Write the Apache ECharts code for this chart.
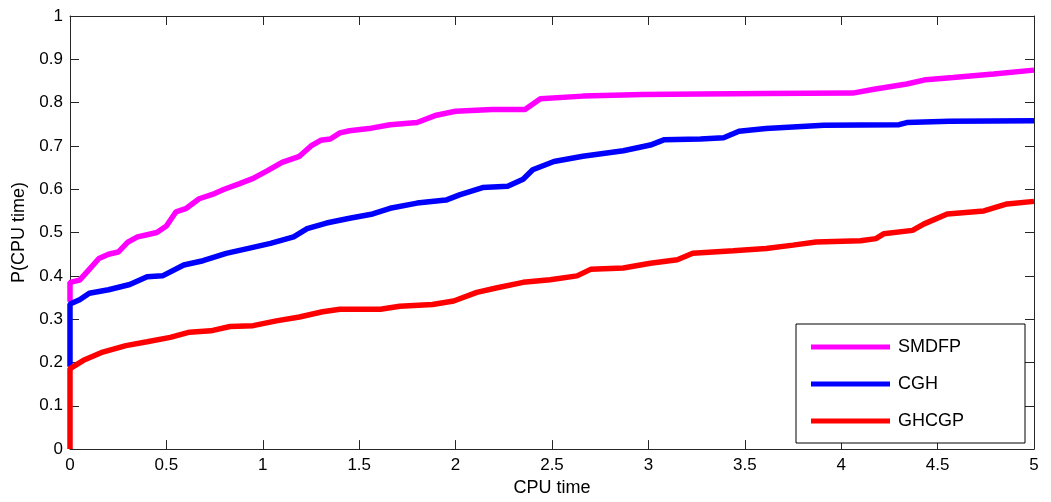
<!DOCTYPE html>
<html>
<head>
<meta charset="utf-8">
<script src="https://cdn.jsdelivr.net/npm/echarts@6/dist/echarts.min.js"></script>
<style>
  html, body { margin: 0; padding: 0; background: #fff; }
  #chart { width: 1051px; height: 502px; }
</style>
</head>
<body>
<div id="chart"></div>
<script>
// [CPU time, P(CPU time)]
var smdfp = [[0,0.34],[0,0.385],[0.05,0.39],[0.1,0.415],[0.15,0.44],[0.2,0.45],[0.25,0.455],[0.3,0.478],[0.35,0.49],[0.4,0.495],[0.45,0.5],[0.5,0.515],[0.55,0.548],[0.6,0.555],[0.67,0.578],[0.75,0.59],[0.8,0.6],[0.88,0.613],[0.95,0.625],[1.02,0.642],[1.1,0.662],[1.19,0.676],[1.25,0.7],[1.3,0.713],[1.35,0.716],[1.4,0.73],[1.45,0.735],[1.55,0.74],[1.66,0.749],[1.8,0.754],[1.9,0.771],[2.0,0.78],[2.19,0.784],[2.36,0.784],[2.44,0.809],[2.66,0.815],[2.97,0.819],[3.27,0.82],[3.6,0.821],[4.06,0.822],[4.17,0.831],[4.34,0.843],[4.44,0.853],[4.58,0.858],[4.79,0.866],[5,0.875]];
var cgh = [[0,0.19],[0,0.335],[0.05,0.345],[0.1,0.36],[0.2,0.368],[0.31,0.38],[0.4,0.398],[0.48,0.4],[0.59,0.425],[0.69,0.435],[0.81,0.452],[0.92,0.463],[1.04,0.475],[1.16,0.49],[1.23,0.509],[1.33,0.522],[1.45,0.533],[1.57,0.543],[1.66,0.556],[1.8,0.568],[1.95,0.575],[2.02,0.587],[2.14,0.604],[2.27,0.607],[2.35,0.623],[2.4,0.645],[2.51,0.664],[2.66,0.676],[2.87,0.689],[3.01,0.702],[3.08,0.714],[3.27,0.716],[3.39,0.719],[3.47,0.734],[3.61,0.74],[3.91,0.748],[4.3,0.749],[4.34,0.754],[4.56,0.757],[5,0.758]];
var ghcgp = [[0,0],[0,0.186],[0.07,0.205],[0.17,0.224],[0.29,0.239],[0.4,0.248],[0.52,0.258],[0.62,0.27],[0.73,0.273],[0.83,0.283],[0.95,0.285],[1.07,0.296],[1.19,0.305],[1.31,0.317],[1.4,0.323],[1.61,0.323],[1.71,0.33],[1.88,0.334],[1.99,0.342],[2.11,0.362],[2.21,0.372],[2.35,0.385],[2.49,0.391],[2.63,0.4],[2.7,0.415],[2.87,0.418],[3.01,0.429],[3.15,0.437],[3.23,0.452],[3.44,0.458],[3.61,0.463],[3.75,0.471],[3.87,0.478],[4.1,0.481],[4.18,0.486],[4.22,0.497],[4.37,0.505],[4.43,0.52],[4.55,0.543],[4.74,0.55],[4.86,0.566],[5,0.572]];
var names = ['SMDFP', 'CGH', 'GHCGP'];

var font = '"Liberation Sans", Arial, Helvetica, sans-serif';
var axisColor = '#262626';

var chart = echarts.init(document.getElementById('chart'));

function boxAxis(pos, type) {
    // top / right axes only close the box, ticks inside, no labels
    return {
        type: 'value',
        position: pos,
        min: 0,
        max: type === 'x' ? 5 : 1,
        interval: type === 'x' ? 0.5 : 0.1,
        axisLine: { show: true, onZero: false, lineStyle: { color: axisColor, width: 1 } },
        axisTick: { show: true, inside: true, length: 9, lineStyle: { color: axisColor } },
        axisLabel: { show: false },
        splitLine: { show: false }
    };
}

chart.setOption({
    animation: false,
    backgroundColor: '#fff',
    grid: { left: 70, right: 17, top: 16, bottom: 47 },
    legend: {
        data: names,
        orient: 'vertical',
        left: 796,
        top: 324,
        icon: 'rect',
        itemWidth: 79,
        itemHeight: 5,
        itemGap: 19,
        padding: [14, 61, 13, 15],
        borderColor: '#000',
        borderWidth: 1,
        backgroundColor: '#fff',
        textStyle: { fontFamily: font, fontSize: 18, color: '#000', padding: [0, 0, 0, 3] }
    },
    xAxis: [{
        type: 'value',
        min: 0,
        max: 5,
        interval: 0.5,
        name: 'CPU time',
        nameLocation: 'middle',
        nameGap: 29,
        nameTextStyle: { fontFamily: font, fontSize: 18, color: '#000' },
        axisLine: { show: true, onZero: false, lineStyle: { color: axisColor, width: 1 } },
        axisTick: { show: true, inside: true, length: 9, lineStyle: { color: axisColor } },
        axisLabel: { fontFamily: font, fontSize: 17, color: '#000', margin: 8 },
        splitLine: { show: false }
    }, boxAxis('top', 'x')],
    yAxis: [{
        type: 'value',
        min: 0,
        max: 1,
        interval: 0.1,
        name: 'P(CPU time)',
        nameLocation: 'middle',
        nameGap: 40,
        nameTextStyle: { fontFamily: font, fontSize: 18, color: '#000' },
        axisLine: { show: true, onZero: false, lineStyle: { color: axisColor, width: 1 } },
        axisTick: { show: true, inside: true, length: 9, lineStyle: { color: axisColor } },
        axisLabel: { fontFamily: font, fontSize: 17, color: '#000', margin: 7 },
        splitLine: { show: false }
    }, boxAxis('right', 'y')],
    series: [
        { name: names[0], type: 'line', data: smdfp, showSymbol: false, lineStyle: { color: '#ff00ff', width: 5.5 }, itemStyle: { color: '#ff00ff' } },
        { name: names[1], type: 'line', data: cgh, showSymbol: false, lineStyle: { color: '#0000ff', width: 5.5 }, itemStyle: { color: '#0000ff' } },
        { name: names[2], type: 'line', data: ghcgp, showSymbol: false, lineStyle: { color: '#ff0000', width: 5.5 }, itemStyle: { color: '#ff0000' } }
    ]
});
</script>
</body>
</html>
